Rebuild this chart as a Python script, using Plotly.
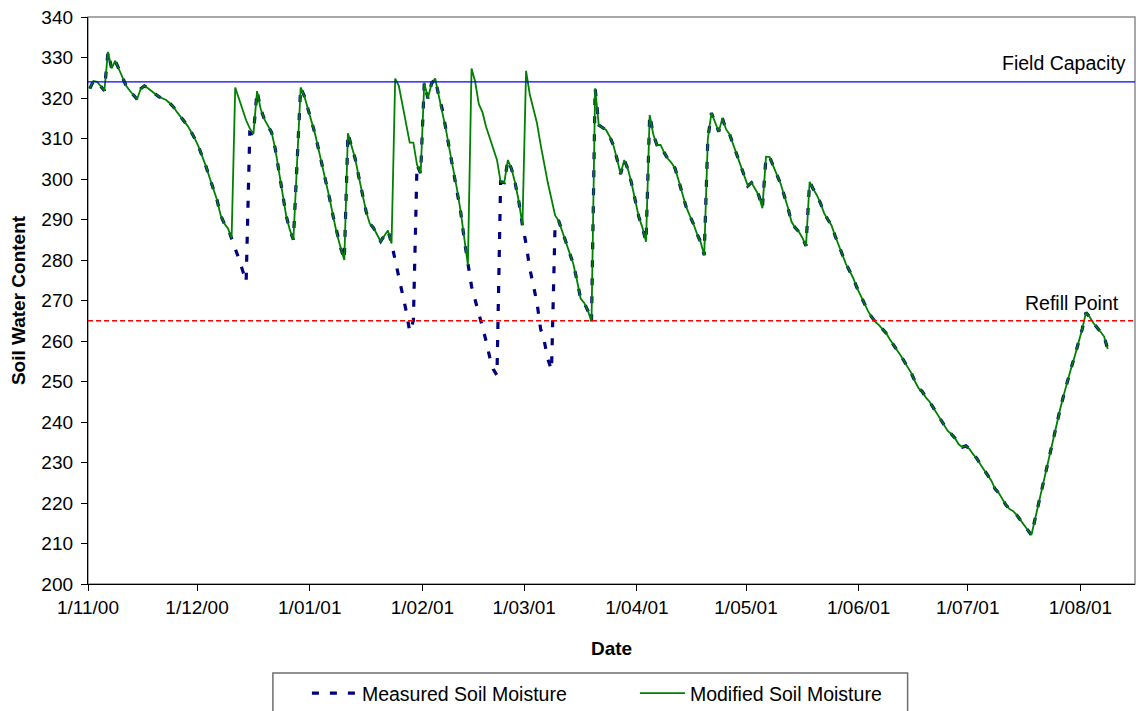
import pandas as pd
import plotly.graph_objects as go

# ---------------- data ----------------
START_DATE = "2000-11-01"          # first daily reading
X_END = "2001-08-16"               # right end of the date axis

# Modified soil moisture, one value per day from START_DATE
modified_values = [
    322.3, 324.2, 324.0, 323.0, 321.8, 331.4, 327.3, 329.2, 327.0, 324.8,   # 0-9
    323.0, 321.8, 320.8, 319.7, 322.3, 323.0, 322.4, 321.8, 321.0, 320.3,   # 10-19
    319.9, 319.5, 318.7, 317.8, 316.5, 315.2, 314.2, 313.0, 311.5, 309.8,   # 20-29
    307.8, 305.5, 303.0, 300.2, 297.5, 294.8, 291.0, 289.0, 287.8, 285.4,   # 30-39
    322.6, 319.8, 317.0, 314.5, 312.5, 311.1, 321.7, 317.3, 314.8, 313.0,   # 40-49
    311.5, 307.5, 301.5, 296.5, 291.0, 287.5, 285.0, 304.0, 322.6, 320.5,   # 50-59
    317.5, 314.3, 311.0, 307.0, 303.0, 299.5, 295.0, 290.5, 286.3, 283.0,   # 60-69
    280.0, 311.3, 308.0, 305.0, 300.5, 296.0, 292.0, 289.0, 288.0, 286.3,   # 70-79
    284.6, 286.0, 287.3, 284.1, 324.8, 323.0, 318.5, 313.5, 309.0, 309.0,   # 80-89
    303.5, 301.4, 323.8, 319.9, 323.6, 324.8, 320.5, 317.0, 312.0, 307.0,   # 90-99
    302.5, 297.5, 292.0, 285.0, 278.8, 327.3, 324.0, 318.5, 316.5, 312.9,   # 100-109
    310.0, 307.5, 304.7, 299.3, 299.1, 304.7, 302.5, 299.0, 294.5, 288.6,   # 110-119
    326.7, 321.0, 317.0, 313.8, 308.5, 303.5, 299.0, 295.0, 291.0, 289.6,   # 120-129
    287.0, 284.3, 281.7, 279.0, 275.0, 270.5, 269.4, 267.5, 264.8, 322.4,   # 130-139
    313.3, 312.6, 312.1, 310.5, 308.4, 305.0, 301.2, 304.7, 302.5, 299.0,   # 140-149
    295.0, 290.7, 288.0, 284.5, 315.8, 311.0, 308.4, 308.4, 306.5, 305.0,   # 150-159
    304.0, 302.6, 299.5, 296.5, 293.2, 291.0, 289.0, 286.5, 284.5, 281.2,   # 160-169
    310.0, 316.3, 314.0, 311.7, 315.0, 312.3, 311.0, 308.5, 305.5, 303.0,   # 170-179
    300.5, 298.3, 299.1, 297.5, 296.0, 292.8, 305.5, 305.4, 303.0, 301.0,   # 180-189
    298.9, 296.0, 293.0, 289.5, 288.0, 287.0, 285.5, 283.5, 299.3, 297.5,   # 190-199
    296.0, 294.0, 291.5, 290.0, 288.6, 286.0, 283.5, 281.0, 279.0, 277.3,   # 200-209
    275.5, 273.2, 271.2, 269.5, 267.5, 266.0, 264.8, 264.0, 263.0, 262.0,   # 210-219
    260.5, 259.0, 257.8, 256.5, 255.0, 253.7, 252.0, 250.0, 248.3, 247.5,   # 220-229
    246.0, 245.0, 243.5, 242.0, 240.5, 239.0, 237.8, 237.0, 236.0, 234.5,   # 230-239
    233.8, 234.1, 233.3, 232.0, 231.0, 229.5, 228.0, 226.8, 225.5, 223.5,   # 240-249
    222.5, 221.0, 219.5, 218.5, 218.0, 217.0, 215.8, 214.5, 213.5, 212.1,   # 250-259
    216.0, 220.0, 224.0, 228.0, 232.0, 236.0, 240.0, 243.5, 247.0, 250.5,   # 260-269
    253.5, 256.5, 259.5, 263.0, 267.0, 266.0, 264.5, 263.5, 262.3, 261.1,   # 270-279
    258.0,                                                                  # 280
]

# Measured soil moisture equals the modified series except during four dry spells
measured_dip_start_days = [40, 84, 105, 120]
measured_dip_values = [
    [283.0, 280.3, 277.5, 274.6, 311.5],
    [280.0, 276.5, 272.0, 267.5, 262.3, 265.0],
    [273.5, 270.1, 267.0, 263.5, 260.0, 256.0, 253.0, 251.5],
    [284.0, 278.0, 274.0, 269.5, 263.0, 260.0, 255.5, 252.8, 289.5],
]

FIELD_CAPACITY = 324
REFILL_POINT = 265
Y_TICKS = [200, 210, 220, 230, 240, 250, 260, 270, 280, 290, 300, 310, 320, 330, 340]

# ---------------- build ----------------
measured_values = list(modified_values)
for start, vals in zip(measured_dip_start_days, measured_dip_values):
    for i, v in enumerate(vals):
        measured_values[start + i] = v

# Excel date axis: each day's point sits in the middle of its day slot
dates = pd.date_range(START_DATE, periods=len(modified_values), freq="D") + pd.Timedelta(hours=12)

FONT = "Liberation Sans, Arial, sans-serif"
PW = 1047.5   # plot-area width in px
PH = 567      # plot-area height in px

fig = go.Figure()
fig.add_trace(go.Scatter(
    x=dates, y=measured_values, mode="lines", name="Measured Soil Moisture",
    line=dict(color="#000080", width=3.2, dash="7px,11px"),
))
fig.add_trace(go.Scatter(
    x=dates, y=modified_values, mode="lines", name="Modified Soil Moisture",
    line=dict(color="#008000", width=1.8),
))

shapes = [
    # plot-area frame (gray top/right)
    dict(type="rect", xref="paper", yref="paper", x0=0, x1=1, y0=0, y1=1,
         line=dict(color="#8c8c8c", width=1.5), layer="below"),
    dict(type="line", xref="paper", yref="y", x0=0, x1=1, y0=FIELD_CAPACITY, y1=FIELD_CAPACITY,
         line=dict(color="#0000FF", width=1.3)),
    dict(type="line", xref="paper", yref="y", x0=0, x1=1, y0=REFILL_POINT, y1=REFILL_POINT,
         line=dict(color="#FF0000", width=1.5, dash="5px,3px")),
    # legend frame (runs off the bottom of the page)
    dict(type="rect", xref="paper", yref="paper",
         x0=(273 - 88) / PW, x1=(908 - 88) / PW,
         y0=-(740 - 584) / PH, y1=-(673 - 584) / PH,
         line=dict(color="#6e6e6e", width=1.5), fillcolor="rgba(0,0,0,0)"),
]

annotations = [
    dict(text="Field Capacity", xref="paper", yref="y", x=(1128 - 88) / PW, y=FIELD_CAPACITY,
         xanchor="right", yanchor="middle", yshift=19, showarrow=False,
         font=dict(family=FONT, size=19.5, color="#000000")),
    dict(text="Refill Point", xref="paper", yref="y", x=(1121 - 88) / PW, y=REFILL_POINT,
         xanchor="right", yanchor="middle", yshift=18, showarrow=False,
         font=dict(family=FONT, size=19.5, color="#000000")),
]

fig.update_layout(
    width=1139, height=711,
    margin=dict(l=88, r=3.5, t=17, b=127, pad=0, autoexpand=False),
    paper_bgcolor="white", plot_bgcolor="white",
    font=dict(family=FONT, size=19, color="#000000"),
    showlegend=True,
    legend=dict(orientation="h", x=(307 - 88) / PW, xanchor="left",
                y=-(674 - 584) / PH, yanchor="top",
                bgcolor="rgba(0,0,0,0)", borderwidth=0,
                font=dict(family=FONT, size=19.5, color="#000000"),
                entrywidth=268, entrywidthmode="pixels", itemwidth=45),
    shapes=shapes,
    annotations=annotations,
    xaxis=dict(
        type="date", range=[START_DATE, X_END],
        tick0=START_DATE, dtick="M1", tickformat="%-d/%m/%y",
        showgrid=False, zeroline=False,
        showline=True, linecolor="#000000", linewidth=1.3,
        ticks="outside", ticklen=6, tickcolor="#000000", tickwidth=1.3,
        tickfont=dict(family=FONT, size=19, color="#000000"),
        title=dict(text="<b>Date</b>", font=dict(family=FONT, size=19, color="#000000"), standoff=24),
    ),
    yaxis=dict(
        range=[200, 340], tickvals=Y_TICKS,
        showgrid=False, zeroline=False,
        showline=True, linecolor="#000000", linewidth=1.3,
        ticks="outside", ticklen=6, tickcolor="#000000", tickwidth=1.3,
        tickfont=dict(family=FONT, size=19, color="#000000"),
        ticklabelstandoff=4,
        title=dict(text="<b>Soil Water Content</b>", font=dict(family=FONT, size=19, color="#000000"), standoff=10),
    ),
)

fig.write_html("out.html")
